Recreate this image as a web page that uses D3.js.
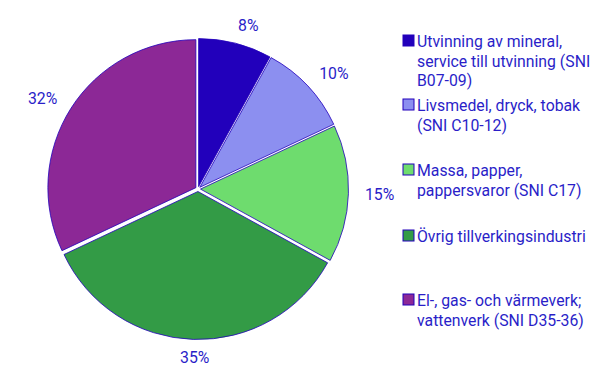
<!DOCTYPE html>
<html>
<head>
<meta charset="utf-8">
<script src="https://cdn.jsdelivr.net/npm/d3@7"></script>
<style>
  html, body { margin: 0; padding: 0; background: #fff; }
  svg { display: block; }
  text { font-family: Roboto, "Noto Sans", sans-serif; }
</style>
</head>
<body>
<svg id="chart" width="605" height="378"></svg>
<script>
const categories = [
  ["Utvinning av mineral,", "service till utvinning (SNI", "B07-09)"],
  ["Livsmedel, dryck, tobak", "(SNI C10-12)"],
  ["Massa, papper,", "pappersvaror (SNI C17)"],
  ["Övrig tillverkingsindustri"],
  ["El-, gas- och värmeverk;", "vattenverk (SNI D35-36)"]
];
const values = [8, 10, 15, 35, 32];
const valueLabels = ["8%", "10%", "15%", "35%", "32%"];
const colors = ["#2200bb", "#8c8ff0", "#6edc6e", "#339b46", "#8c2896"];

const textColor = "#2a1ec8";
const fontSize = 15.8;
const svg = d3.select("#chart");
const cx = 198, cy = 189, r = 148, explode = 2.5, labelR = 169;

const pie = d3.pie().sort(null).value(d => d);
const arcs = pie(values);
const arc = d3.arc().innerRadius(0).outerRadius(r);

const g = svg.append("g").attr("transform", `translate(${cx},${cy})`);

g.selectAll("path.slice")
  .data(arcs)
  .join("path")
  .attr("class", "slice")
  .attr("d", arc)
  .attr("fill", (d, i) => colors[i])
  .attr("stroke", "#2200bb")
  .attr("stroke-width", 0.8)
  .attr("transform", d => {
    const a = (d.startAngle + d.endAngle) / 2;
    return `translate(${Math.sin(a) * explode},${-Math.cos(a) * explode})`;
  });

// Data labels: y on the label circle, x taken from the circle at that y,
// aligned away from the pie (centred near the top/bottom).
g.selectAll("text.val")
  .data(arcs)
  .join("text")
  .attr("class", "val")
  .each(function(d, i) {
    const a = (d.startAngle + d.endAngle) / 2;
    const s = Math.sin(a);
    const y = -Math.cos(a) * labelR;
    const xr = Math.sqrt(Math.max(0, labelR * labelR - y * y)) - 2;
    let anchor = "middle", x = Math.sign(s) * xr;
    if (Math.abs(s) > 0.1) anchor = s > 0 ? "start" : "end";
    d3.select(this)
      .attr("x", x).attr("y", y)
      .attr("text-anchor", anchor)
      .attr("dominant-baseline", "central")
      .attr("font-size", fontSize)
      .attr("fill", textColor)
      .text(valueLabels[i]);
  });

// Legend
const legendX = 403, itemY = [41, 105, 170, 236, 300], lineH = 19.5;
const leg = svg.append("g");
categories.forEach((lines, i) => {
  const y0 = itemY[i];
  leg.append("rect")
    .attr("x", legendX).attr("y", y0 - 6)
    .attr("width", 11).attr("height", 11)
    .attr("fill", colors[i])
    .attr("stroke", "#2200bb").attr("stroke-width", 1);
  const t = leg.append("text")
    .attr("x", legendX + 14)
    .attr("y", y0)
    .attr("dominant-baseline", "central")
    .attr("font-size", fontSize)
    .attr("fill", textColor);
  lines.forEach((ln, j) => {
    t.append("tspan").attr("x", legendX + 14).attr("y", y0 + j * lineH).text(ln);
  });
});
</script>
</body>
</html>
